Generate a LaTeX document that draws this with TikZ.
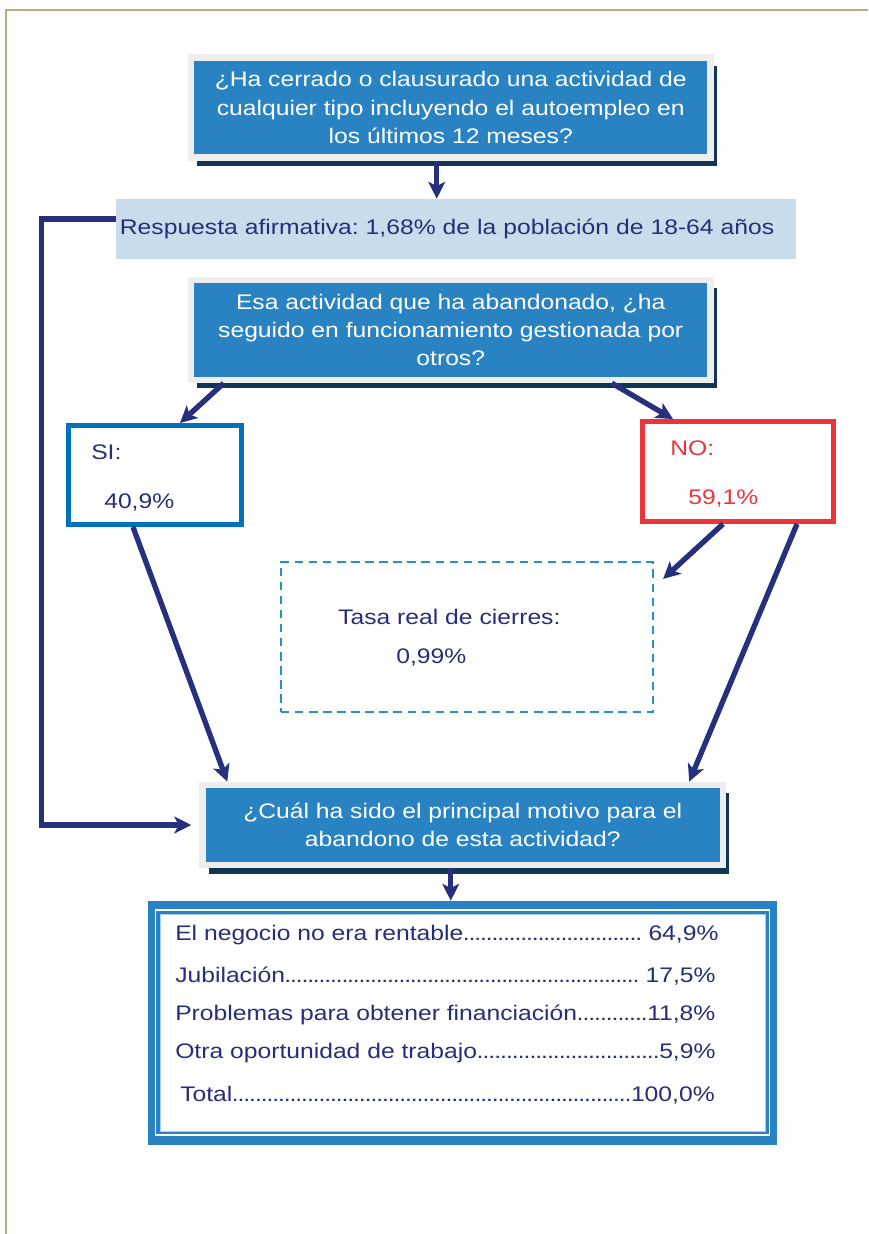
\documentclass[tikz,border=0pt]{standalone}
\usepackage{fontspec}
\setmainfont{Liberation Sans}[FakeStretch=1.17]
\usetikzlibrary{arrows.meta,calc,shadows}
\frenchspacing

\definecolor{azulcaja}{RGB}{41,131,194}
\definecolor{grismarco}{RGB}{238,238,238}
\definecolor{sombra}{RGB}{15,55,85}
\definecolor{azulbanda}{RGB}{201,220,235}
\definecolor{azultexto}{RGB}{40,45,120}
\definecolor{azulflecha}{RGB}{38,48,125}
\definecolor{azulsi}{RGB}{0,114,188}
\definecolor{rojono}{RGB}{236,52,58}
\definecolor{azultrazos}{RGB}{40,145,205}
\definecolor{azulclaro}{RGB}{170,205,230}
\definecolor{oliva}{RGB}{178,176,128}

\newcommand{\puntos}{\xleaders\hbox to 0.27em{\hss.\hss}\hfill}

\begin{document}
\begin{tikzpicture}[x=0.025cm, y=-0.025cm,
    font=\fontsize{15}{20.2}\selectfont,
    pregunta/.style={fill=azulcaja, draw=grismarco, line width=4.5pt, text=white, align=center, inner sep=0pt,
        minimum width=12.99cm, minimum height=2.5cm,
        drop shadow={fill=sombra, opacity=1, shadow xshift=4.5pt, shadow yshift=-6pt}},
    flecha/.style={-{Stealth[length=12pt, width=12pt, inset=3pt]}, line width=3.8pt, draw=azulflecha},
    dato/.style={anchor=west, inner sep=0pt, text=azultexto},
    fila/.style={anchor=west, inner sep=0pt, text=azultexto}
]
    \useasboundingbox (0,0) rectangle (868,1234);

    % Page frame
    \draw[oliva, line width=2pt] (6,1234) -- (6,10) -- (868,10);

    % First question and answer band
    \node[pregunta] (p1) at (450.75,107.5) {¿Ha cerrado o clausurado una actividad de\\cualquier tipo incluyendo el autoempleo en\\los últimos 12 meses?};
    \node[fill=azulbanda, text=azultexto, minimum width=17cm, minimum height=1.5cm, text width=16.8cm, align=left, inner sep=0pt] (resp) at (456,229) {Respuesta afirmativa: 1,68\% de la población de 18-64 años};

    % Second question
    \node[pregunta] (p2) at (450.75,330) {Esa actividad que ha abandonado, ¿ha\\seguido en funcionamiento gestionada por\\otros?};

    % SI / NO
    \node[draw=azulsi, line width=3.5pt, minimum width=4.325cm, minimum height=2.475cm] (si) at (155,475) {};
    \node[dato] (sitxt) at (91,452) {SI:};
    \node[dato] (sival) at (104,502) {40,9\%};
    \node[draw=rojono, line width=3.5pt, minimum width=4.775cm, minimum height=2.5cm] (no) at (738,471.5) {};
    \node[dato, text=rojono] (notxt) at (670,448) {NO:};
    \node[dato, text=rojono] (noval) at (688,498) {59,1\%};

    % Real closure rate
    \node[draw=azultrazos, line width=1.5pt, dash pattern=on 6pt off 4pt, minimum width=9.3cm, minimum height=3.75cm] (tasa) at (467,637) {};
    \node[dato] (tasatxt) at (338,617) {Tasa real de cierres:};
    \node[dato] (tasaval) at (396,657) {0,99\%};

    % Third question
    \node[pregunta, minimum width=13.0125cm, minimum height=2.0125cm] (p3) at (462.75,825) {¿Cuál ha sido el principal motivo para el\\abandono de esta actividad?};

    % Reasons table
    \node[fill=azulcaja, minimum width=15.725cm, minimum height=6.1cm] (motivos) at (462.5,1023) {};
    \node[draw=white, line width=1.2pt, minimum width=15.35cm, minimum height=5.625cm] (marco) at (462.5,1022.5) {};
    \node[fill=white, draw=azulclaro, line width=0.6pt, minimum width=15.125cm, minimum height=5.425cm] (tabla) at (462.5,1022.5) {};
    \node[fila] (m1) at (175,935) {\hbox to 13.575cm{El negocio no era rentable\puntos\ 64,9\%}};
    \node[fila] (m2) at (175,976) {\hbox to 13.5cm{Jubilación\puntos\ 17,5\%}};
    \node[fila] (m3) at (175,1015) {\hbox to 13.5cm{Problemas para obtener financiación\puntos 11,8\%}};
    \node[fila] (m4) at (175,1053) {\hbox to 13.5cm{Otra oportunidad de trabajo\puntos 5,9\%}};
    \node[fila] (m5) at (180,1095) {\hbox to 13.35cm{Total\puntos 100,0\%}};

    % Arrows
    \coordinate (a1) at ($(p1.south)+(-14,0)$);
    \draw[flecha] (a1) -- (a1 |- resp.north);
    \draw[flecha] ($(resp.west)+(0,-10)$) -- ++(-74,0) |- ($(p3.west)+(-8,0)$);
    \draw[flecha] ($(p2.south west)+(36,0)$) -- ($(si.north east)+(-64,0)$);
    \draw[flecha] ($(p2.south east)+(-102,0)$) -- ($(no.north west)+(33,0)$);
    \draw[flecha] ($(no.south)+(-15,0)$) -- ($(tasa.north east)+(9,18)$);
    \draw[flecha] ($(no.south)+(59,0)$) -- ($(p3.north east)+(-37,0)$);
    \draw[flecha] ($(si.south)+(-22,0)$) -- ($(p3.north west)+(28,0)$);
    \coordinate (a2) at ($(p3.south)+(-12,0)$);
    \draw[flecha] (a2) -- (a2 |- motivos.north);
\end{tikzpicture}
\end{document}
